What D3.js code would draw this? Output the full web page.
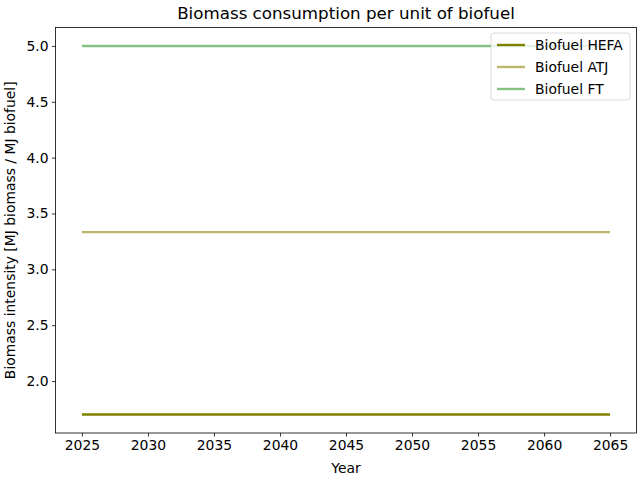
<!DOCTYPE html>
<html>
<head>
<meta charset="utf-8">
<script src="https://cdn.jsdelivr.net/npm/d3@7"></script>
<style>
  body { margin: 0; background: #fff; }
  text { font-family: "DejaVu Sans", sans-serif; fill: #000; }
</style>
</head>
<body>
<div id="chart"></div>
<script>
// data
var years = [2025, 2030, 2035, 2040, 2045, 2050, 2055, 2060, 2065];
var seriesNames = ["Biofuel HEFA", "Biofuel ATJ", "Biofuel FT"];
var hefa = [1.7, 1.7, 1.7, 1.7, 1.7, 1.7, 1.7, 1.7, 1.7];
var atj = [3.333, 3.333, 3.333, 3.333, 3.333, 3.333, 3.333, 3.333, 3.333];
var ft = [5.0, 5.0, 5.0, 5.0, 5.0, 5.0, 5.0, 5.0, 5.0];
var yTicks = [2.0, 2.5, 3.0, 3.5, 4.0, 4.5, 5.0];

var colors = ["#808000", "#bdb76b", "#84c284"];
var series = [hefa, atj, ft].map(function(v, i) {
  return { name: seriesNames[i], color: colors[i], values: v };
});

var W = 640, H = 480;
var m = { left: 55.5, right: 3.5, top: 27.5, bottom: 47 };

var svg = d3.select("#chart").append("svg")
    .attr("width", W).attr("height", H);

// matplotlib style 5% margins
var xMin = d3.min(years), xMax = d3.max(years);
var xPad = (xMax - xMin) * 0.05;
var allY = d3.merge([hefa, atj, ft]);
var yMin = d3.min(allY), yMax = d3.max(allY);
var yPad = (yMax - yMin) * 0.05;

var x = d3.scaleLinear()
    .domain([xMin - xPad, xMax + xPad])
    .range([m.left, W - m.right]);
var y = d3.scaleLinear()
    .domain([yMin - yPad, yMax + yPad])
    .range([H - m.bottom, m.top]);

var line = d3.line()
    .x(function(d, i) { return x(years[i]); })
    .y(function(d) { return y(d); });

svg.append("g").selectAll("path")
    .data(series)
    .enter().append("path")
    .attr("fill", "none")
    .attr("stroke", function(d) { return d.color; })
    .attr("stroke-width", 2.4)
    .attr("d", function(d) { return line(d.values); });

// axes
var xAxis = svg.append("g")
    .attr("transform", "translate(0," + (H - m.bottom) + ")")
    .call(d3.axisBottom(x).tickValues(years).tickFormat(d3.format("d"))
      .tickSize(3.5).tickPadding(3.5));
var yAxis = svg.append("g")
    .attr("transform", "translate(" + m.left + ",0)")
    .call(d3.axisLeft(y).tickValues(yTicks).tickFormat(d3.format(".1f"))
      .tickSize(3.5).tickPadding(3.5));

[xAxis, yAxis].forEach(function(a) {
  a.select(".domain").remove();
  a.selectAll(".tick line").attr("stroke", "#000").attr("stroke-width", 0.8);
  a.selectAll(".tick text").style("font-size", "13.9px")
    .style("font-family", "DejaVu Sans, sans-serif").attr("fill", "#000");
});

// frame
svg.append("rect")
    .attr("x", m.left).attr("y", m.top)
    .attr("width", W - m.left - m.right)
    .attr("height", H - m.top - m.bottom)
    .attr("fill", "none").attr("stroke", "#000").attr("stroke-width", 0.8);

// labels
svg.append("text")
    .attr("x", (m.left + W - m.right) / 2).attr("y", 19)
    .attr("text-anchor", "middle")
    .style("font-size", "16.7px")
    .text("Biomass consumption per unit of biofuel");
svg.append("text")
    .attr("x", (m.left + W - m.right) / 2).attr("y", 473)
    .attr("text-anchor", "middle")
    .style("font-size", "13.9px")
    .text("Year");
svg.append("text")
    .attr("transform", "translate(15," + ((m.top + H - m.bottom) / 2) + ") rotate(-90)")
    .attr("text-anchor", "middle")
    .style("font-size", "13.9px")
    .text("Biomass intensity [MJ biomass / MJ biofuel]");

// legend
var lg = svg.append("g").attr("transform", "translate(491,33)");
lg.append("rect")
    .attr("width", 139).attr("height", 67).attr("rx", 3)
    .attr("fill", "#fff").attr("fill-opacity", 0.8)
    .attr("stroke", "#d0d0d0").attr("stroke-width", 0.8);
var items = lg.selectAll("g.item").data(series).enter().append("g")
    .attr("transform", function(d, i) { return "translate(0," + (12 + i * 22) + ")"; });
items.append("line")
    .attr("x1", 6).attr("x2", 34)
    .attr("stroke", function(d) { return d.color; })
    .attr("stroke-width", 2.4);
items.append("text")
    .attr("x", 44).attr("dy", "0.35em")
    .style("font-size", "13.9px")
    .text(function(d) { return d.name; });
</script>
</body>
</html>
